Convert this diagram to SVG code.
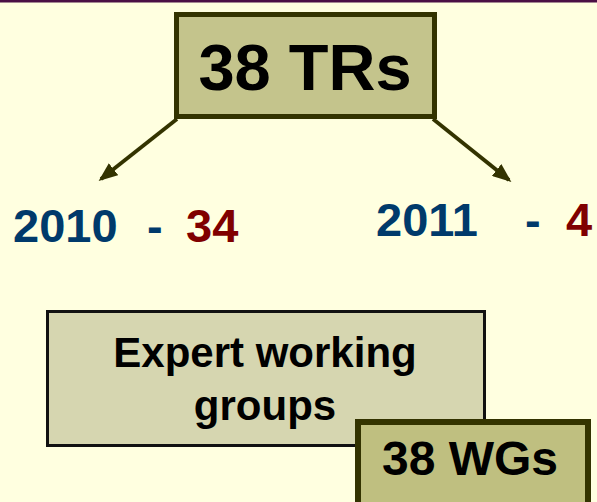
<svg xmlns="http://www.w3.org/2000/svg" width="597" height="502" viewBox="0 0 597 502">
<defs>
<style>
.t{font-family:"Liberation Sans",Arial,sans-serif;font-weight:bold;}
.blue{fill:#003A6B;}
.red{fill:#800000;}
</style>
<marker id="ah" markerWidth="5" markerHeight="4" refX="4.2" refY="2" orient="auto" markerUnits="strokeWidth">
<path d="M0,0 L5,2 L0,4 Z" fill="#333300"/>
</marker>
</defs>
<rect x="0" y="0" width="597" height="502" fill="#FFFFE0"/>
<rect x="0" y="0" width="597" height="2.5" fill="#4B0F45"/>
<g id="connectors">
<line x1="177" y1="119" x2="101" y2="179" stroke="#333300" stroke-width="3.8" marker-end="url(#ah)"/>
<line x1="433" y1="119" x2="509" y2="180" stroke="#333300" stroke-width="3.8" marker-end="url(#ah)"/>
</g>
<g id="node-trs">
<rect x="176.5" y="14.5" width="258" height="102" fill="#C4C48C" stroke="#333300" stroke-width="5"/>
<text class="t" x="305" y="90" font-size="65" text-anchor="middle" fill="#000">38 TRs</text>
</g>
<g id="label-2010">
<text class="t blue" x="13" y="242" font-size="47">2010</text>
<text class="t blue" x="147" y="242" font-size="47">-</text>
<text class="t red" x="186" y="242" font-size="47">34</text>
</g>
<g id="label-2011">
<text class="t blue" x="376" y="236" font-size="47">2011</text>
<text class="t blue" x="525" y="236" font-size="47">-</text>
<text class="t red" x="566" y="236" font-size="47">4</text>
</g>
<g id="node-expert">
<rect x="47.5" y="311.5" width="437" height="134" fill="#D6D6B0" stroke="#111" stroke-width="3"/>
<text class="t" x="265" y="367" font-size="42" text-anchor="middle" fill="#000">Expert working</text>
<text class="t" x="265" y="420" font-size="42" text-anchor="middle" fill="#000">groups</text>
</g>
<g id="node-wgs">
<rect x="358" y="422" width="230" height="90" fill="#BFBF80" stroke="#333300" stroke-width="6"/>
<text class="t" x="470" y="475" font-size="48" text-anchor="middle" fill="#000">38 WGs</text>
</g>
</svg>
